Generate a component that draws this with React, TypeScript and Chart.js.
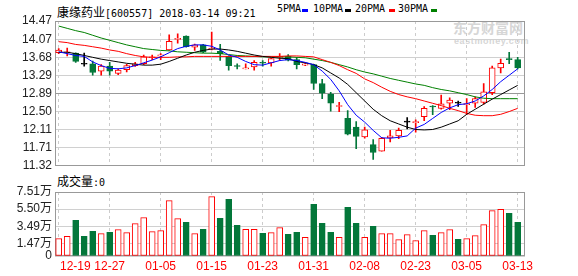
import React, { useEffect, useRef } from 'react';
import { Chart, registerables } from 'chart.js';

Chart.register(...registerables);

const dates = ['12-19','12-20','12-21','12-22','12-25','12-26','12-27','12-28','12-29',
  '01-02','01-03','01-04','01-05','01-08','01-09','01-10','01-11','01-12',
  '01-15','01-16','01-17','01-18','01-19','01-22','01-23','01-24','01-25','01-26',
  '01-29','01-30','01-31','02-01','02-02','02-05','02-06','02-07','02-08','02-09',
  '02-12','02-13','02-14','02-22','02-23','02-26','02-27','02-28','03-01','03-02',
  '03-05','03-06','03-07','03-08','03-09','03-12','03-13'];

const xTickLabels = ['12-19','12-27','01-05','01-15','01-23','01-31','02-08','02-23','03-05','03-13'];

const opens = [13.78,13.78,13.77,13.53,13.54,13.38,13.49,13.33,13.41,13.50,
  13.54,13.67,13.71,13.84,14.07,14.14,13.90,13.95,13.86,13.81,
  13.70,13.50,13.43,13.47,13.56,13.56,13.68,13.70,13.63,13.51,
  13.52,13.11,12.88,12.61,12.35,12.16,11.95,11.78,11.64,11.93,
  11.97,12.27,12.26,12.39,12.61,12.57,12.68,12.68,12.65,12.68,
  12.70,12.91,13.45,13.64,13.63];
const highs = [13.87,13.88,13.78,13.77,13.60,13.52,13.57,13.43,13.53,13.57,
  13.73,13.73,13.76,14.17,14.19,14.15,13.97,13.96,14.23,13.96,
  13.71,13.54,13.54,13.61,13.61,13.66,13.76,13.74,13.68,13.57,
  13.53,13.20,12.92,12.70,12.52,12.28,12.16,11.89,11.94,12.09,
  12.14,12.37,12.32,12.61,12.63,12.86,12.80,12.73,12.78,12.82,
  13.11,13.49,13.64,13.79,13.68];
const lows = [13.76,13.71,13.57,13.49,13.29,13.29,13.29,13.30,13.36,13.48,
  13.52,13.63,13.63,13.83,13.99,13.90,13.83,13.78,13.84,13.61,
  13.40,13.43,13.43,13.40,13.49,13.49,13.61,13.60,13.43,13.50,
  12.98,12.78,12.51,12.50,11.99,11.69,11.92,11.46,11.64,11.84,
  11.91,12.12,12.05,12.30,12.43,12.55,12.54,12.61,12.44,12.59,
  12.66,12.87,13.34,13.54,13.43];
const closes = [13.84,13.79,13.59,13.53,13.35,13.49,13.38,13.40,13.50,13.54,
  13.69,13.69,13.72,14.03,14.08,13.91,13.95,13.79,13.88,13.76,
  13.50,13.48,13.44,13.57,13.55,13.65,13.69,13.62,13.52,13.54,
  13.11,12.90,12.68,12.63,12.01,11.96,12.10,11.61,11.92,11.97,
  12.09,12.27,12.28,12.57,12.60,12.67,12.75,12.68,12.67,12.78,
  12.93,13.45,13.55,13.63,13.45];

// volume in 万
const volumes = [2.04,2.31,4.19,2.31,2.90,2.63,2.78,3.10,2.74,3.80,
  4.50,2.86,2.98,6.50,4.39,3.95,2.63,3.13,6.97,4.42,
  6.65,3.60,3.13,3.13,2.66,2.74,3.33,2.55,2.78,2.19,
  6.07,3.84,2.78,2.19,5.71,3.84,2.19,3.49,2.63,2.63,
  1.92,2.51,1.80,2.98,2.43,2.74,3.10,1.96,2.04,2.39,
  3.68,5.33,5.48,5.01,3.95];

const ma5 = [13.80,13.76,13.72,13.70,13.58,13.50,13.44,13.43,13.45,13.50,
  13.56,13.62,13.69,13.78,13.87,13.92,13.95,13.95,13.92,13.84,
  13.73,13.68,13.59,13.52,13.51,13.56,13.61,13.63,13.61,13.57,
  13.52,13.38,13.20,12.95,12.65,12.42,12.27,12.09,11.93,11.92,
  11.94,11.97,12.14,12.22,12.35,12.48,12.58,12.65,12.67,12.73,
  12.84,12.98,13.15,13.29,13.43];
const ma10 = [13.79,13.79,13.76,13.72,13.68,13.64,13.61,13.58,13.55,13.53,
  13.51,13.51,13.53,13.59,13.66,13.73,13.79,13.83,13.86,13.86,
  13.84,13.81,13.77,13.73,13.70,13.68,13.66,13.65,13.59,13.56,
  13.52,13.45,13.34,13.23,13.09,12.91,12.73,12.55,12.41,12.30,
  12.23,12.16,12.11,12.10,12.11,12.16,12.23,12.30,12.44,12.55,
  12.66,12.77,12.87,12.97,13.07];
const ma20 = [14.02,14.00,13.96,13.94,13.91,13.88,13.84,13.81,13.76,13.72,
  13.69,13.68,13.68,13.68,13.69,13.69,13.70,13.70,13.70,13.70,
  13.70,13.70,13.70,13.70,13.70,13.70,13.70,13.71,13.71,13.70,
  13.69,13.63,13.57,13.50,13.41,13.33,13.21,13.13,13.03,12.94,
  12.87,12.82,12.78,12.73,12.68,12.63,12.57,12.52,12.46,12.42,
  12.41,12.41,12.44,12.50,12.57];
const ma30 = [14.36,14.31,14.26,14.22,14.16,14.10,14.05,14.00,13.95,13.91,
  13.87,13.85,13.83,13.82,13.80,13.79,13.78,13.77,13.77,13.76,
  13.74,13.72,13.71,13.70,13.69,13.69,13.69,13.69,13.68,13.67,
  13.64,13.61,13.57,13.52,13.47,13.41,13.36,13.32,13.27,13.22,
  13.18,13.14,13.10,13.07,13.02,12.98,12.95,12.91,12.87,12.82,
  12.79,12.78,12.78,12.78,12.78];

const priceTicks = [11.32, 11.71, 12.11, 12.50, 12.89, 13.29, 13.68, 14.07, 14.47];
const volumeTicks = [0, 1.47, 3.49, 5.50, 7.51];

const maSeries = [
  { name: '5PMA', data: ma5, color: '#0000ff' },
  { name: '10PMA', data: ma10, color: '#000000' },
  { name: '20PMA', data: ma20, color: '#ff0000' },
  { name: '30PMA', data: ma30, color: '#008000' },
];

const RED = '#ff0000';
const GREEN = '#03773a';
const BLACK = '#000000';
const X_MIN = -0.435;
const X_MAX = 54.86;
const FONT = "'Liberation Sans', Arial, 'Noto Sans CJK SC', sans-serif";

const xTickIndices = dates.map((d, i) => (xTickLabels.includes(d) ? i : -1)).filter((i) => i >= 0);

const candleColor = (i: number) =>
  closes[i] > opens[i] ? RED : closes[i] < opens[i] ? GREEN : BLACK;
const volumeUp = (i: number) =>
  closes[i] > opens[i] || (closes[i] === opens[i] && (i === 0 || closes[i] >= closes[i - 1]));

const framePlugin = {
  id: 'frame',
  beforeDatasetsDraw(chart: any) {
    const { ctx, chartArea: a } = chart;
    ctx.save();
    ctx.strokeStyle = '#999999';
    ctx.lineWidth = 1;
    ctx.setLineDash([]);
    ctx.strokeRect(Math.round(a.left) + 0.5, Math.round(a.top) + 0.5,
      Math.round(a.right - a.left) - 1, Math.round(a.bottom - a.top) - 1);
    ctx.restore();
  },
};

const firstLabelPlugin = {
  id: 'firstLabel',
  beforeDraw(chart: any) {
    const s = chart.scales.x;
    if (!s || !s.getLabelItems) return;
    const items = s.getLabelItems();
    if (items && items.length && items[0].options) {
      items[0].options.textAlign = 'left';
      const t = items[0].options.translation;
      items[0].options.translation = [chart.chartArea.left + 5, t[1]];
    }
  },
};

const xScale = (showLabels: boolean) => ({
  type: 'linear',
  min: X_MIN,
  max: X_MAX,
  offset: false,
  afterBuildTicks: (s: any) => { s.ticks = xTickIndices.map((v) => ({ value: v })); },
  afterFit: (s: any) => { s.height = showLabels ? 20 : 0; },
  ticks: {
    display: showLabels,
    autoSkip: false,
    maxRotation: 0,
    minRotation: 0,
    padding: 3,
    color: RED,
    font: { size: 12, family: FONT },
    callback: (v: any) => dates[Math.round(Number(v))],
  },
  grid: { color: '#cccccc', drawTicks: false, offset: false, lineWidth: 1 },
  border: { display: false, dash: [3, 3] },
});

export default function App() {
  const priceRef = useRef<HTMLCanvasElement>(null);
  const volRef = useRef<HTMLCanvasElement>(null);

  useEffect(() => {
    const idx = dates.map((_, i) => i);
    const colors = idx.map(candleColor);
    const priceChart = new Chart(priceRef.current as HTMLCanvasElement, {
      type: 'bar',
      data: {
        datasets: [
          {
            type: 'bar',
            data: idx.map((i) => ({ x: i, y: [lows[i], highs[i]] })),
            backgroundColor: colors,
            borderWidth: 0,
            barThickness: 1,
            grouped: false,
            order: 3,
          },
          {
            type: 'bar',
            data: idx.map((i) => ({ x: i, y: [opens[i], closes[i]] })),
            backgroundColor: colors.map((c) => (c === RED ? '#ffffff' : c)),
            borderColor: colors,
            borderWidth: 1,
            borderSkipped: false,
            barThickness: 6,
            minBarLength: 1,
            grouped: false,
            order: 2,
          },
          ...maSeries.map((m) => ({
            type: 'line',
            data: idx.map((i) => ({ x: i, y: m.data[i] })),
            borderColor: m.color,
            borderWidth: 1,
            pointRadius: 0,
            tension: 0,
            fill: false,
            order: 1,
          })),
        ] as any,
      },
      options: {
        animation: false,
        responsive: false,
        maintainAspectRatio: false,
        devicePixelRatio: 1,
        events: [],
        layout: { padding: { left: 0, right: 53, top: 21, bottom: 8 } },
        plugins: { legend: { display: false }, tooltip: { enabled: false } },
        scales: {
          x: xScale(false) as any,
          y: {
            type: 'linear',
            min: 11.32,
            max: 14.47,
            beginAtZero: false,
            afterBuildTicks: (s: any) => { s.ticks = priceTicks.map((v) => ({ value: v })); },
            afterFit: (s: any) => { s.width = 55; },
            ticks: {
              autoSkip: false,
              padding: 3,
              color: '#222222',
              font: { size: 12, family: FONT },
              callback: (v: any) => Number(v).toFixed(2),
            },
            grid: {
              drawTicks: false,
              color: (ctx: any) => (ctx.tick && Math.abs(ctx.tick.value - 12.89) < 0.001 ? '#999999' : '#d0d0d0'),
            },
            border: { display: false },
          },
        },
      },
      plugins: [framePlugin],
    } as any);

    const volChart = new Chart(volRef.current as HTMLCanvasElement, {
      type: 'bar',
      data: {
        datasets: [
          {
            type: 'bar',
            data: idx.map((i) => ({ x: i, y: volumes[i] })),
            backgroundColor: idx.map((i) => (volumeUp(i) ? '#ffffff' : GREEN)),
            borderColor: idx.map((i) => (volumeUp(i) ? RED : GREEN)),
            borderWidth: 1,
            borderSkipped: false,
            barThickness: 6,
            grouped: false,
          },
        ] as any,
      },
      options: {
        animation: false,
        responsive: false,
        maintainAspectRatio: false,
        devicePixelRatio: 1,
        events: [],
        layout: { padding: { left: 0, right: 53, top: 16, bottom: 0 } },
        plugins: { legend: { display: false }, tooltip: { enabled: false } },
        scales: {
          x: xScale(true) as any,
          y: {
            type: 'linear',
            min: 0,
            max: 7.51,
            afterBuildTicks: (s: any) => { s.ticks = volumeTicks.map((v) => ({ value: v })); },
            afterFit: (s: any) => { s.width = 55; },
            ticks: {
              autoSkip: false,
              padding: 3,
              color: '#222222',
              font: { size: 12, family: FONT },
              callback: (v: any) => (Number(v) === 0 ? '0' : Number(v).toFixed(2) + '万'),
            },
            grid: { drawTicks: false, color: '#d0d0d0' },
            border: { display: false },
          },
        },
      },
      plugins: [framePlugin, firstLabelPlugin],
    } as any);

    return () => {
      priceChart.destroy();
      volChart.destroy();
    };
  }, []);

  const mono = "'DejaVu Sans Mono', 'Liberation Mono', monospace";
  const cjk = "'Noto Sans CJK SC', sans-serif";
  const legendPos = [
    { text: '5PMA', left: 277, box: 301.5 },
    { text: '10PMA', left: 313, box: 345 },
    { text: '20PMA', left: 355, box: 388.5 },
    { text: '30PMA', left: 398, box: 431 },
  ];

  return (
    <div style={{ position: 'fixed', left: 0, top: 0, width: 578, height: 276, background: '#ffffff', overflow: 'hidden' }}>
      <div style={{ position: 'absolute', left: 432, top: 19, color: '#d6d6d6', whiteSpace: 'pre' }}>
        <div style={{ position: 'absolute', left: 21, top: 0, font: `bold 14px ${cjk}`, lineHeight: '17px' }}>东方财富网</div>
        <div style={{ position: 'absolute', left: 22, top: 17, font: `bold 9px ${FONT}`, letterSpacing: '0.6px', lineHeight: '11px' }}>eastmoney.com</div>
      </div>
      <div style={{ position: 'absolute', left: 57, top: 3, lineHeight: '14px', whiteSpace: 'pre', color: '#000' }}>
        <span style={{ font: `12px ${cjk}` }}>康缘药业</span>
        <span style={{ font: `10px ${mono}` }}>[600557] 2018-03-14 09:21</span>
      </div>
      {legendPos.map((l, k) => (
        <React.Fragment key={l.text}>
          <div style={{ position: 'absolute', left: l.left, top: 3, lineHeight: '14px', font: `10px ${mono}`, color: '#000', whiteSpace: 'pre' }}>{l.text}</div>
          <div style={{ position: 'absolute', left: l.box, top: 9, width: 6, height: 3, background: maSeries[k].color }} />
        </React.Fragment>
      ))}
      <div style={{ position: 'absolute', left: 57, top: 172, lineHeight: '14px', whiteSpace: 'pre', color: '#000' }}>
        <span style={{ font: `12px ${cjk}` }}>成交量</span>
        <span style={{ font: `10px ${mono}` }}>:0</span>
      </div>
      <canvas ref={priceRef} width={578} height={176} style={{ position: 'absolute', left: 0, top: 0, width: 578, height: 176 }} />
      <canvas ref={volRef} width={578} height={100} style={{ position: 'absolute', left: 0, top: 176, width: 578, height: 100 }} />
    </div>
  );
}
